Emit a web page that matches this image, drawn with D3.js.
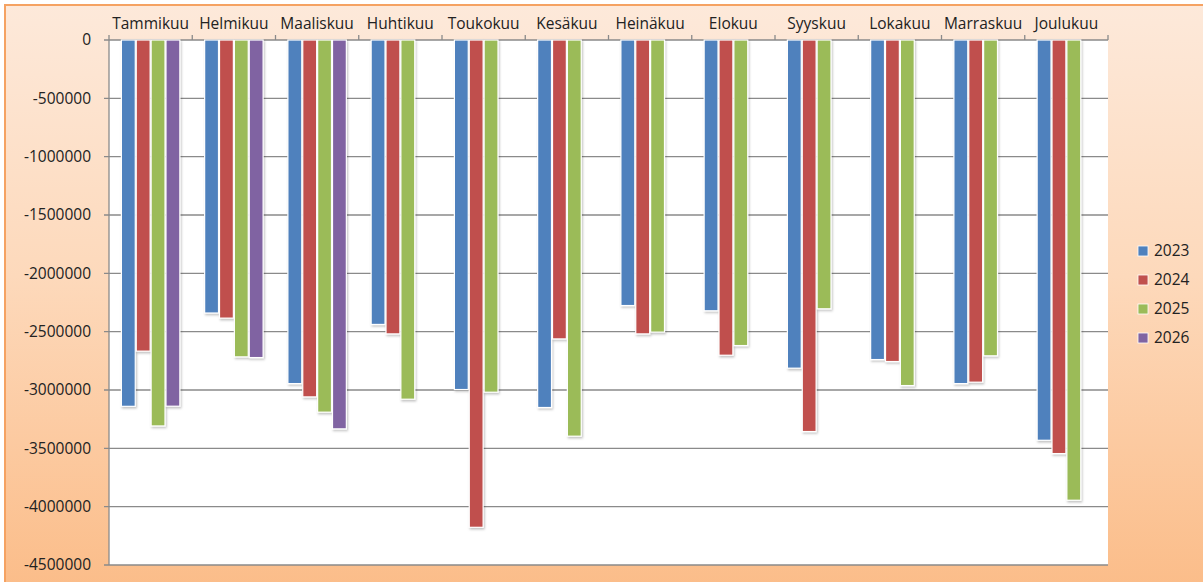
<!DOCTYPE html>
<html>
<head>
<meta charset="utf-8">
<script src="https://cdn.jsdelivr.net/npm/d3@7"></script>
<style>
  body { margin: 0; background: #fff; }
  text { font-family: "Open Sans", sans-serif; fill: #222; }
</style>
</head>
<body>
<script>
// data
var months = ["Tammikuu","Helmikuu","Maaliskuu","Huhtikuu","Toukokuu","Kesäkuu","Heinäkuu","Elokuu","Syyskuu","Lokakuu","Marraskuu","Joulukuu"];
var years = ["2023","2024","2025","2026"];
var v2023 = [-3140000,-2340000,-2945000,-2438000,-2996000,-3150000,-2276000,-2321000,-2813000,-2739000,-2945000,-3431000];
var v2024 = [-2667000,-2384000,-3059000,-2519000,-4177000,-2562000,-2519000,-2702000,-3356000,-2756000,-2933000,-3545000];
var v2025 = [-3308000,-2716000,-3190000,-3079000,-3019000,-3396000,-2504000,-2619000,-2304000,-2962000,-2707000,-3945000];
var v2026 = [-3139000,-2722000,-3333000,null,null,null,null,null,null,null,null,null];
var yTicks = [0,-500000,-1000000,-1500000,-2000000,-2500000,-3000000,-3500000,-4000000,-4500000];
var colors = ["#4f81bd","#c0504d","#9bbb59","#8064a2"];

var series = [v2023, v2024, v2025, v2026];
var rows = [];
months.forEach(function (m, i) {
  years.forEach(function (yr, j) {
    if (series[j][i] != null) rows.push({month: m, year: yr, value: series[j][i]});
  });
});

var W = 1203, H = 582;
var svg = d3.select("body").append("svg").attr("width", W).attr("height", H);

var defs = svg.append("defs");
var grad = defs.append("linearGradient").attr("id", "bg")
  .attr("x1", 0).attr("y1", 0).attr("x2", 0).attr("y2", 1);
grad.append("stop").attr("offset", "0%").attr("stop-color", "#fde9da");
grad.append("stop").attr("offset", "45%").attr("stop-color", "#fdd9bb");
grad.append("stop").attr("offset", "100%").attr("stop-color", "#fbbb86");

var shadow = defs.append("filter").attr("id", "sh")
  .attr("x", "-30%").attr("y", "-5%").attr("width", "160%").attr("height", "110%");
shadow.append("feDropShadow").attr("dx", 1).attr("dy", 1.5)
  .attr("stdDeviation", 1.2).attr("flood-color", "#000").attr("flood-opacity", 0.25);

// chart background and border (cut by the right and bottom edges)
svg.append("rect").attr("x", 0).attr("y", 0).attr("width", W).attr("height", H).attr("fill", "#fff");
svg.append("rect").attr("x", 5).attr("y", 5).attr("width", W + 20).attr("height", H + 20)
  .attr("fill", "url(#bg)").attr("stroke", "#f5a262").attr("stroke-width", 2);

var plotL = 109, plotR = 1108, plotT = 40, plotB = 565;

var x0 = d3.scaleBand().domain(months).range([plotL, plotR]).padding(0);
var x1 = d3.scaleBand().domain(years).range([0, x0.bandwidth()]).paddingInner(0).paddingOuter(0.8);
var y = d3.scaleLinear().domain([-4500000, 0]).range([plotB, plotT]);

// plot area
svg.append("rect").attr("x", plotL).attr("y", plotT).attr("width", plotR - plotL).attr("height", plotB - plotT)
  .attr("fill", "#fff");

// grid lines
svg.append("g").selectAll("line").data(yTicks).enter().append("line")
  .attr("x1", plotL - 5).attr("x2", plotR)
  .attr("y1", d => y(d)).attr("y2", d => y(d))
  .attr("stroke", "#8a8a8a").attr("stroke-width", 1.3);

// y axis labels
svg.append("g").selectAll("text").data(yTicks).enter().append("text")
  .attr("x", 91).attr("y", d => y(d)).attr("dy", "0.35em")
  .attr("text-anchor", "end").attr("font-size", 15.5)
  .text(d => String(d));

// axis line
svg.append("line").attr("x1", plotL).attr("x2", plotL).attr("y1", plotT).attr("y2", plotB)
  .attr("stroke", "#8a8a8a").attr("stroke-width", 1.3);

// category ticks at top
var bounds = months.map(m => x0(m)).concat([plotR]);
svg.append("g").selectAll("line").data(bounds).enter().append("line")
  .attr("x1", d => d).attr("x2", d => d).attr("y1", plotT - 5).attr("y2", plotT)
  .attr("stroke", "#8a8a8a").attr("stroke-width", 1.3);

// month labels
svg.append("g").selectAll("text").data(months).enter().append("text")
  .attr("x", d => x0(d) + x0.bandwidth() / 2).attr("y", 29)
  .attr("text-anchor", "middle").attr("font-size", 15.5)
  .text(d => d);

// bars
svg.append("g").selectAll("rect").data(rows).enter().append("rect")
  .attr("x", d => x0(d.month) + x1(d.year) + 0.5)
  .attr("y", y(0))
  .attr("width", x1.bandwidth() - 1)
  .attr("height", d => y(d.value) - y(0))
  .attr("fill", d => colors[years.indexOf(d.year)])
  .attr("stroke", "#fff").attr("stroke-width", 1.2)
  .attr("filter", "url(#sh)");

// legend
var lg = svg.append("g").selectAll("g").data(years).enter().append("g")
  .attr("transform", (d, i) => `translate(1138, ${251 + i * 29})`);
lg.append("rect").attr("x", 0).attr("y", -5).attr("width", 10).attr("height", 10)
  .attr("fill", (d, i) => colors[i]).attr("stroke", "#fff").attr("stroke-width", 0.8);
lg.append("text").attr("x", 16).attr("y", 0).attr("dy", "0.35em")
  .attr("font-size", 15.5).text(d => d);
</script>
</body>
</html>
